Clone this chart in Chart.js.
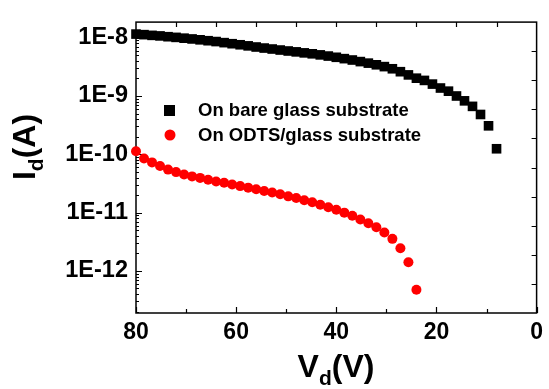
<!DOCTYPE html>
<html>
<head>
<meta charset="utf-8">
<script src="https://cdn.jsdelivr.net/npm/chart.js@4/dist/chart.umd.min.js"></script>
<style>
  html, body { margin: 0; padding: 0; background: #fff; }
  canvas { display: block; }
</style>
</head>
<body>
<canvas id="idChart" width="549" height="389"></canvas>
<script>
// drain voltage (V) for each series
const vdBare = [80, 78.4, 76.8, 75.2, 73.6, 72, 70.4, 68.8, 67.2, 65.6, 64, 62.4, 60.8, 59.2, 57.6, 56,
  54.4, 52.8, 51.2, 49.6, 48, 46.4, 44.8, 43.2, 41.6, 40, 38.4, 36.8, 35.2, 33.6, 32, 30.4, 28.8,
  27.2, 25.6, 24, 22.4, 20.8, 19.2, 17.6, 16, 14.4, 12.8, 11.2, 9.6, 8];
const vdOdts = [80, 78.4, 76.8, 75.2, 73.6, 72, 70.4, 68.8, 67.2, 65.6, 64, 62.4, 60.8, 59.2, 57.6, 56,
  54.4, 52.8, 51.2, 49.6, 48, 46.4, 44.8, 43.2, 41.6, 40, 38.4, 36.8, 35.2, 33.6, 32, 30.4, 28.8,
  27.2, 25.6, 24];

// drain current (A)
const idBare = [1.153e-8, 1.127e-8, 1.096e-8, 1.072e-8, 1.039e-8, 1.012e-8, 9.81e-9, 9.51e-9, 9.19e-9, 8.87e-9,
  8.58e-9, 8.22e-9, 7.88e-9, 7.56e-9, 7.24e-9, 6.92e-9, 6.64e-9, 6.39e-9, 6.14e-9, 5.91e-9,
  5.71e-9, 5.49e-9, 5.29e-9, 5.07e-9, 4.84e-9, 4.61e-9, 4.37e-9, 4.14e-9, 3.89e-9, 3.66e-9,
  3.43e-9, 3.19e-9, 2.93e-9, 2.61e-9, 2.30e-9, 2.02e-9, 1.85e-9, 1.60e-9, 1.37e-9, 1.21e-9,
  1.0e-9, 8.26e-10, 6.64e-10, 4.82e-10, 3.08e-10, 1.245e-10];
const idOdts = [1.13e-10, 8.48e-11, 7.27e-11, 6.31e-11, 5.47e-11, 4.95e-11, 4.52e-11, 4.18e-11, 3.94e-11, 3.65e-11,
  3.41e-11, 3.25e-11, 3.04e-11, 2.85e-11, 2.68e-11, 2.51e-11, 2.35e-11, 2.21e-11, 2.07e-11, 1.90e-11,
  1.78e-11, 1.63e-11, 1.51e-11, 1.36e-11, 1.24e-11, 1.12e-11, 1.0e-11, 8.81e-12, 7.64e-12, 6.56e-12,
  5.62e-12, 4.55e-12, 3.55e-12, 2.45e-12, 1.41e-12, 4.77e-13];

const seriesNames = ['On bare glass substrate', 'On ODTS/glass substrate'];
const xTicks = [80, 60, 40, 20, 0];
const yDecades = [1e-12, 1e-11, 1e-10, 1e-9, 1e-8];

const FONT = "'Liberation Sans', Arial, Helvetica, sans-serif";

function toPoints(xs, ys) {
  return xs.map((x, i) => ({ x: x, y: ys[i] }));
}

// frame, inward ticks, legend and axis titles
const decorPlugin = {
  id: 'decor',
  beforeDatasetsDraw(chart) {
    const ctx = chart.ctx;
    const a = chart.chartArea;
    const xs = chart.scales.x, ys = chart.scales.y;
    ctx.save();
    ctx.strokeStyle = '#000';
    ctx.lineWidth = 1.2;
    ctx.beginPath();
    // left: decades + minors
    yDecades.forEach(d => {
      for (let m = 1; m <= 9; m++) {
        const v = d * m;
        if (v < ys.min || v > ys.max) continue;
        const py = Math.round(ys.getPixelForValue(v)) + 0.5;
        const len = m === 1 ? 6 : 3;
        ctx.moveTo(a.left, py); ctx.lineTo(a.left + len, py);
      }
    });
    [2e-13, 3e-13, 4e-13, 5e-13, 6e-13, 7e-13, 8e-13, 9e-13].forEach(v => {
      if (v < ys.min) return;
      const py = Math.round(ys.getPixelForValue(v)) + 0.5;
      ctx.moveTo(a.left, py); ctx.lineTo(a.left + 3, py);
    });
    // bottom
    for (let v = 0; v <= 80; v += 10) {
      const px = Math.round(xs.getPixelForValue(v)) + 0.5;
      const len = v % 20 === 0 ? 6 : 4;
      ctx.moveTo(px, a.bottom); ctx.lineTo(px, a.bottom - len);
    }
    // top and right: ten divisions
    for (let i = 1; i < 10; i++) {
      const px = Math.round(a.left + (a.right - a.left) * i / 10) + 0.5;
      ctx.moveTo(px, a.top); ctx.lineTo(px, a.top + 5);
      const py = Math.round(a.top + (a.bottom - a.top) * i / 10) + 0.5;
      ctx.moveTo(a.right, py); ctx.lineTo(a.right - 5, py);
    }
    ctx.stroke();
    ctx.lineWidth = 1.5;
    ctx.strokeRect(a.left, a.top, a.right - a.left, a.bottom - a.top);
    ctx.restore();
  },
  afterDraw(chart) {
    const ctx = chart.ctx;
    ctx.save();
    // legend
    ctx.fillStyle = '#000';
    ctx.fillRect(164, 105, 11, 11);
    ctx.fillStyle = '#ff0000';
    ctx.beginPath();
    ctx.arc(170, 135, 5.5, 0, Math.PI * 2);
    ctx.fill();
    ctx.fillStyle = '#000';
    ctx.font = 'bold 18.5px ' + FONT;
    ctx.textBaseline = 'middle';
    ctx.textAlign = 'left';
    ctx.fillText(seriesNames[0], 198, 111);
    ctx.fillText(seriesNames[1], 198, 136);

    // axis titles with subscript
    function subTitle(main, sub, rest, cx, baseY) {
      ctx.textBaseline = 'alphabetic';
      ctx.font = 'bold 32px ' + FONT;
      const w1 = ctx.measureText(main).width;
      const w3 = ctx.measureText(rest).width;
      ctx.font = 'bold 21px ' + FONT;
      const w2 = ctx.measureText(sub).width;
      let x = cx - (w1 + w2 + w3) / 2;
      ctx.font = 'bold 32px ' + FONT;
      ctx.fillText(main, x, baseY);
      x += w1;
      ctx.font = 'bold 21px ' + FONT;
      ctx.fillText(sub, x, baseY + 8);
      x += w2;
      ctx.font = 'bold 32px ' + FONT;
      ctx.fillText(rest, x, baseY);
    }
    subTitle('V', 'd', '(V)', 336, 377);
    ctx.translate(35, 147);
    ctx.rotate(-Math.PI / 2);
    subTitle('I', 'd', '(A)', 0, 0);
    ctx.restore();
  }
};

document.addEventListener('DOMContentLoaded', function () {
  const ctx = document.getElementById('idChart').getContext('2d');

  const data = {
    datasets: [{
      label: seriesNames[0],
      data: toPoints(vdBare, idBare),
      showLine: false,
      pointStyle: 'rect',
      pointRadius: 6.8,
      backgroundColor: '#000',
      borderColor: '#000',
      borderWidth: 0,
      clip: false
    }, {
      label: seriesNames[1],
      data: toPoints(vdOdts, idOdts),
      showLine: false,
      pointStyle: 'circle',
      pointRadius: 5,
      backgroundColor: '#ff0000',
      borderColor: '#ff0000',
      borderWidth: 0,
      clip: false
    }]
  };

  const myChart = new Chart(ctx, {
    type: 'scatter',
    data: data,
    plugins: [decorPlugin],
    options: {
      responsive: false,
      animation: false,
      devicePixelRatio: 1,
      layout: { padding: { left: 0, top: 14, right: 6, bottom: 0 } },
      plugins: {
        legend: { display: false },
        tooltip: { enabled: false },
        title: { display: false }
      },
      scales: {
        x: {
          type: 'linear',
          min: 0,
          max: 80,
          reverse: true,
          grid: { display: false, drawTicks: false },
          border: { display: false },
          afterBuildTicks: s => { s.ticks = xTicks.map(v => ({ value: v })); },
          afterFit: s => { s.height = 76; },
          ticks: {
            padding: 6,
            color: '#000',
            maxRotation: 0,
            font: { family: FONT, size: 23, weight: 'bold' }
          }
        },
        y: {
          type: 'logarithmic',
          min: 1.9e-13,
          max: 1.85e-8,
          grid: { display: false, drawTicks: false },
          border: { display: false },
          afterBuildTicks: s => { s.ticks = yDecades.map(v => ({ value: v })); },
          afterFit: s => { s.width = 136; },
          ticks: {
            padding: 8,
            color: '#000',
            font: { family: FONT, size: 23.5, weight: 'bold' },
            callback: v => '1E' + Math.round(Math.log10(v))
          }
        }
      }
    }
  });
});
</script>
</body>
</html>
